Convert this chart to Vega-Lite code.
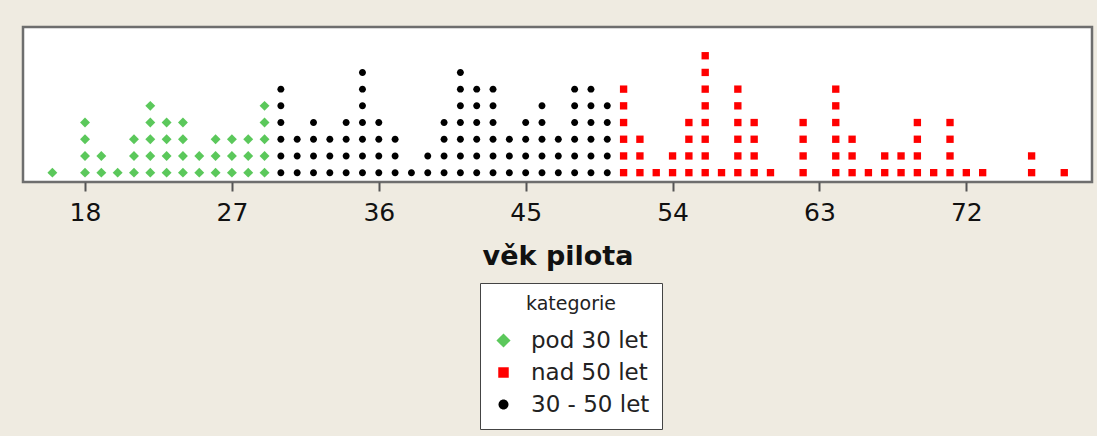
{
 "$schema": "https://vega.github.io/schema/vega-lite/v6.json",
 "width": 1069, "height": 155,
 "autosize": {"type": "none"},
 "padding": {"left": 23, "top": 27, "right": 5, "bottom": 254},
 "background": "#EFEBE1",
 "view": {"fill": "white", "stroke": "#6e6e6e", "strokeWidth": 2.5},
 "data": {"values": [
  {"a":16,"k":"pod 30 let"},
  {"a":18,"k":"pod 30 let"},{"a":18,"k":"pod 30 let"},{"a":18,"k":"pod 30 let"},{"a":18,"k":"pod 30 let"},
  {"a":19,"k":"pod 30 let"},{"a":19,"k":"pod 30 let"},
  {"a":20,"k":"pod 30 let"},
  {"a":21,"k":"pod 30 let"},{"a":21,"k":"pod 30 let"},{"a":21,"k":"pod 30 let"},
  {"a":22,"k":"pod 30 let"},{"a":22,"k":"pod 30 let"},{"a":22,"k":"pod 30 let"},{"a":22,"k":"pod 30 let"},{"a":22,"k":"pod 30 let"},
  {"a":23,"k":"pod 30 let"},{"a":23,"k":"pod 30 let"},{"a":23,"k":"pod 30 let"},{"a":23,"k":"pod 30 let"},
  {"a":24,"k":"pod 30 let"},{"a":24,"k":"pod 30 let"},{"a":24,"k":"pod 30 let"},{"a":24,"k":"pod 30 let"},
  {"a":25,"k":"pod 30 let"},{"a":25,"k":"pod 30 let"},
  {"a":26,"k":"pod 30 let"},{"a":26,"k":"pod 30 let"},{"a":26,"k":"pod 30 let"},
  {"a":27,"k":"pod 30 let"},{"a":27,"k":"pod 30 let"},{"a":27,"k":"pod 30 let"},
  {"a":28,"k":"pod 30 let"},{"a":28,"k":"pod 30 let"},{"a":28,"k":"pod 30 let"},
  {"a":29,"k":"pod 30 let"},{"a":29,"k":"pod 30 let"},{"a":29,"k":"pod 30 let"},{"a":29,"k":"pod 30 let"},{"a":29,"k":"pod 30 let"},
  {"a":30,"k":"30 - 50 let"},{"a":30,"k":"30 - 50 let"},{"a":30,"k":"30 - 50 let"},{"a":30,"k":"30 - 50 let"},{"a":30,"k":"30 - 50 let"},{"a":30,"k":"30 - 50 let"},
  {"a":31,"k":"30 - 50 let"},{"a":31,"k":"30 - 50 let"},{"a":31,"k":"30 - 50 let"},
  {"a":32,"k":"30 - 50 let"},{"a":32,"k":"30 - 50 let"},{"a":32,"k":"30 - 50 let"},{"a":32,"k":"30 - 50 let"},
  {"a":33,"k":"30 - 50 let"},{"a":33,"k":"30 - 50 let"},{"a":33,"k":"30 - 50 let"},
  {"a":34,"k":"30 - 50 let"},{"a":34,"k":"30 - 50 let"},{"a":34,"k":"30 - 50 let"},{"a":34,"k":"30 - 50 let"},
  {"a":35,"k":"30 - 50 let"},{"a":35,"k":"30 - 50 let"},{"a":35,"k":"30 - 50 let"},{"a":35,"k":"30 - 50 let"},{"a":35,"k":"30 - 50 let"},{"a":35,"k":"30 - 50 let"},{"a":35,"k":"30 - 50 let"},
  {"a":36,"k":"30 - 50 let"},{"a":36,"k":"30 - 50 let"},{"a":36,"k":"30 - 50 let"},{"a":36,"k":"30 - 50 let"},
  {"a":37,"k":"30 - 50 let"},{"a":37,"k":"30 - 50 let"},{"a":37,"k":"30 - 50 let"},
  {"a":38,"k":"30 - 50 let"},
  {"a":39,"k":"30 - 50 let"},{"a":39,"k":"30 - 50 let"},
  {"a":40,"k":"30 - 50 let"},{"a":40,"k":"30 - 50 let"},{"a":40,"k":"30 - 50 let"},{"a":40,"k":"30 - 50 let"},
  {"a":41,"k":"30 - 50 let"},{"a":41,"k":"30 - 50 let"},{"a":41,"k":"30 - 50 let"},{"a":41,"k":"30 - 50 let"},{"a":41,"k":"30 - 50 let"},{"a":41,"k":"30 - 50 let"},{"a":41,"k":"30 - 50 let"},
  {"a":42,"k":"30 - 50 let"},{"a":42,"k":"30 - 50 let"},{"a":42,"k":"30 - 50 let"},{"a":42,"k":"30 - 50 let"},{"a":42,"k":"30 - 50 let"},{"a":42,"k":"30 - 50 let"},
  {"a":43,"k":"30 - 50 let"},{"a":43,"k":"30 - 50 let"},{"a":43,"k":"30 - 50 let"},{"a":43,"k":"30 - 50 let"},{"a":43,"k":"30 - 50 let"},{"a":43,"k":"30 - 50 let"},
  {"a":44,"k":"30 - 50 let"},{"a":44,"k":"30 - 50 let"},{"a":44,"k":"30 - 50 let"},
  {"a":45,"k":"30 - 50 let"},{"a":45,"k":"30 - 50 let"},{"a":45,"k":"30 - 50 let"},{"a":45,"k":"30 - 50 let"},
  {"a":46,"k":"30 - 50 let"},{"a":46,"k":"30 - 50 let"},{"a":46,"k":"30 - 50 let"},{"a":46,"k":"30 - 50 let"},{"a":46,"k":"30 - 50 let"},
  {"a":47,"k":"30 - 50 let"},{"a":47,"k":"30 - 50 let"},{"a":47,"k":"30 - 50 let"},
  {"a":48,"k":"30 - 50 let"},{"a":48,"k":"30 - 50 let"},{"a":48,"k":"30 - 50 let"},{"a":48,"k":"30 - 50 let"},{"a":48,"k":"30 - 50 let"},{"a":48,"k":"30 - 50 let"},
  {"a":49,"k":"30 - 50 let"},{"a":49,"k":"30 - 50 let"},{"a":49,"k":"30 - 50 let"},{"a":49,"k":"30 - 50 let"},{"a":49,"k":"30 - 50 let"},{"a":49,"k":"30 - 50 let"},
  {"a":50,"k":"30 - 50 let"},{"a":50,"k":"30 - 50 let"},{"a":50,"k":"30 - 50 let"},{"a":50,"k":"30 - 50 let"},{"a":50,"k":"30 - 50 let"},
  {"a":51,"k":"nad 50 let"},{"a":51,"k":"nad 50 let"},{"a":51,"k":"nad 50 let"},{"a":51,"k":"nad 50 let"},{"a":51,"k":"nad 50 let"},{"a":51,"k":"nad 50 let"},
  {"a":52,"k":"nad 50 let"},{"a":52,"k":"nad 50 let"},{"a":52,"k":"nad 50 let"},
  {"a":53,"k":"nad 50 let"},
  {"a":54,"k":"nad 50 let"},{"a":54,"k":"nad 50 let"},
  {"a":55,"k":"nad 50 let"},{"a":55,"k":"nad 50 let"},{"a":55,"k":"nad 50 let"},{"a":55,"k":"nad 50 let"},
  {"a":56,"k":"nad 50 let"},{"a":56,"k":"nad 50 let"},{"a":56,"k":"nad 50 let"},{"a":56,"k":"nad 50 let"},{"a":56,"k":"nad 50 let"},{"a":56,"k":"nad 50 let"},{"a":56,"k":"nad 50 let"},{"a":56,"k":"nad 50 let"},
  {"a":57,"k":"nad 50 let"},
  {"a":58,"k":"nad 50 let"},{"a":58,"k":"nad 50 let"},{"a":58,"k":"nad 50 let"},{"a":58,"k":"nad 50 let"},{"a":58,"k":"nad 50 let"},{"a":58,"k":"nad 50 let"},
  {"a":59,"k":"nad 50 let"},{"a":59,"k":"nad 50 let"},{"a":59,"k":"nad 50 let"},{"a":59,"k":"nad 50 let"},
  {"a":60,"k":"nad 50 let"},
  {"a":62,"k":"nad 50 let"},{"a":62,"k":"nad 50 let"},{"a":62,"k":"nad 50 let"},{"a":62,"k":"nad 50 let"},
  {"a":64,"k":"nad 50 let"},{"a":64,"k":"nad 50 let"},{"a":64,"k":"nad 50 let"},{"a":64,"k":"nad 50 let"},{"a":64,"k":"nad 50 let"},{"a":64,"k":"nad 50 let"},
  {"a":65,"k":"nad 50 let"},{"a":65,"k":"nad 50 let"},{"a":65,"k":"nad 50 let"},
  {"a":66,"k":"nad 50 let"},
  {"a":67,"k":"nad 50 let"},{"a":67,"k":"nad 50 let"},
  {"a":68,"k":"nad 50 let"},{"a":68,"k":"nad 50 let"},
  {"a":69,"k":"nad 50 let"},{"a":69,"k":"nad 50 let"},{"a":69,"k":"nad 50 let"},{"a":69,"k":"nad 50 let"},
  {"a":70,"k":"nad 50 let"},
  {"a":71,"k":"nad 50 let"},{"a":71,"k":"nad 50 let"},{"a":71,"k":"nad 50 let"},{"a":71,"k":"nad 50 let"},
  {"a":72,"k":"nad 50 let"},
  {"a":73,"k":"nad 50 let"},
  {"a":76,"k":"nad 50 let"},{"a":76,"k":"nad 50 let"},
  {"a":78,"k":"nad 50 let"}
 ]},
 "transform": [{"window": [{"op": "row_number", "as": "n"}], "groupby": ["a"]}],
 "mark": {"type": "point", "filled": true, "opacity": 1, "strokeWidth": 0, "size": 54},
 "encoding": {
  "x": {"field": "a", "type": "quantitative",
   "scale": {"domain": [14.2, 79.7], "nice": false, "zero": false},
   "axis": {"values": [18, 27, 36, 45, 54, 63, 72], "title": "věk pilota", "grid": false, "domain": false,
    "tickColor": "#555555", "tickWidth": 2, "tickSize": 9,
    "labelFont": "DejaVu Sans", "labelFontSize": 25, "labelColor": "#111111", "labelPadding": 9,
    "titleFont": "DejaVu Sans", "titleFontSize": 27, "titleFontWeight": "bold", "titleColor": "#111111", "titlePadding": 18}},
  "y": {"field": "n", "type": "quantitative", "scale": {"domain": [0.44, 9.72], "nice": false, "zero": false}, "axis": null},
  "color": {"field": "k", "type": "nominal",
   "scale": {"domain": ["pod 30 let", "nad 50 let", "30 - 50 let"], "range": ["#5BC85B", "#FF0000", "#000000"]},
   "legend": {"orient": "none", "legendX": 457, "legendY": 256, "direction": "vertical",
    "title": "kategorie", "titleFont": "DejaVu Sans", "titleFontSize": 19, "titleFontWeight": "normal", "titleColor": "#222222", "titleAnchor": "middle", "titlePadding": 15,
    "labelFont": "DejaVu Sans", "labelFontSize": 23, "labelColor": "#222222", "rowPadding": 8, "labelOffset": 16,
    "fillColor": "white", "strokeColor": "#444444", "padding": 12, "symbolSize": 110}},
  "shape": {"field": "k", "type": "nominal",
   "scale": {"domain": ["pod 30 let", "nad 50 let", "30 - 50 let"],
    "range": ["M0,-1.35L1.35,0L0,1.35L-1.35,0Z", "square", "M0.95,0A0.95,0.95,0,1,1,-0.95,0A0.95,0.95,0,1,1,0.95,0Z"]}}
 }
}
